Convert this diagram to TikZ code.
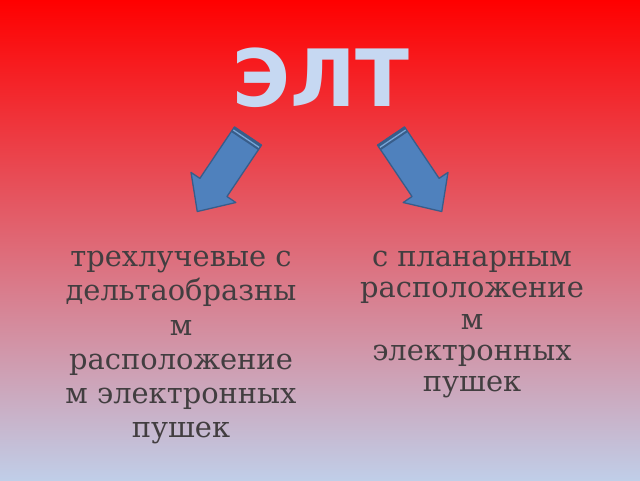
\documentclass[tikz,border=0pt]{standalone}
\usepackage{fontspec}
\setmainfont{DejaVu Serif}
\newfontfamily\titlefont{DejaVu Sans}
\definecolor{bgtop}{RGB}{255,0,0}
\definecolor{bgmid}{RGB}{226,96,110}
\definecolor{bgbot}{RGB}{192,206,232}
\definecolor{titlecol}{RGB}{198,216,242}
\definecolor{arrowfill}{RGB}{79,129,189}
\definecolor{arrowedge}{RGB}{56,93,138}
\definecolor{arrowlight}{RGB}{120,165,215}
\definecolor{textcol}{RGB}{66,62,64}
\tikzset{
  arrowbody/.style={fill=arrowfill, draw=arrowedge, line width=1.3pt, line join=round},
  bodytext/.style={text=textcol, align=center, inner sep=0pt, anchor=base},
}
\begin{document}
\begin{tikzpicture}[x=1pt,y=1pt]
\useasboundingbox (0,0) rectangle (640,480);
\shade[top color=bgtop, middle color=bgmid, bottom color=bgbot] (0,0) rectangle (640,480);
\node[text=titlecol, inner sep=0pt, anchor=base, font=\titlefont\bfseries\fontsize{79}{90}\selectfont] (title) at (321,373) {ЭЛТ};
% left arrow
\begin{scope}[shift={(248,344)}, rotate=236.1]
  \draw[arrowbody] (0,-16.3) -- (62,-16.3) -- (62,-27) -- (91,0) -- (62,27) -- (62,16.3) -- (0,16.3) -- cycle;
  \fill[arrowedge] (0,-16.3) rectangle (6,16.3);
  \draw[arrowlight, line width=1.3pt] (3.2,-15.5) -- (3.2,15.5);
\end{scope}
% right arrow
\begin{scope}[shift={(391,344)}, rotate=-56.1]
  \draw[arrowbody] (0,-16.3) -- (62,-16.3) -- (62,-27) -- (91,0) -- (62,27) -- (62,16.3) -- (0,16.3) -- cycle;
  \fill[arrowedge] (0,-16.3) rectangle (6,16.3);
  \draw[arrowlight, line width=1.3pt] (3.2,-15.5) -- (3.2,15.5);
\end{scope}
\node[bodytext, font=\fontsize{28.9}{34.1}\selectfont] (left) at (181,42.7) {трехлучевые с\\дельтаобразны\\м\\расположение\\м электронных\\пушек};
\node[bodytext, font=\fontsize{28.9}{31.3}\selectfont] (right) at (472,88.3) {с планарным\\расположение\\м\\электронных\\пушек};
\end{tikzpicture}
\end{document}
